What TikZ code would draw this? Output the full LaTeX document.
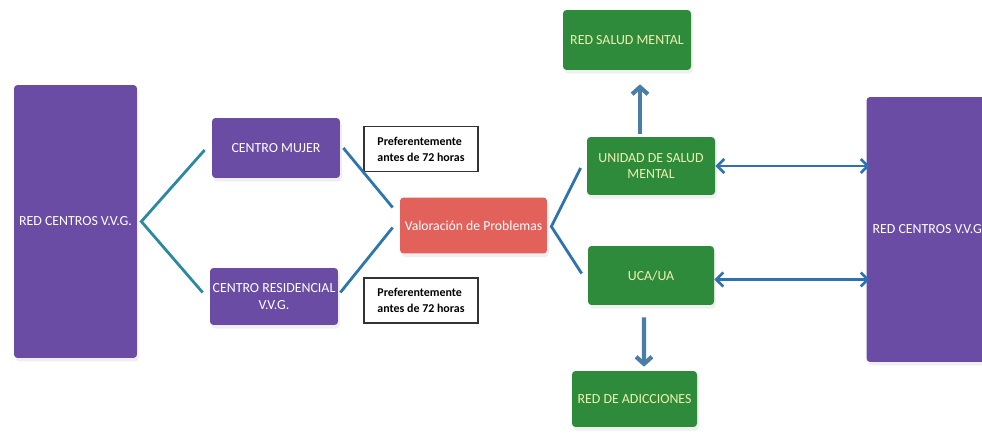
\documentclass[tikz,border=0pt]{standalone}
\usepackage{fontspec}
\setmainfont{Carlito}
\usetikzlibrary{arrows.meta,shadows}
\definecolor{morado}{HTML}{6B4CA5}
\definecolor{verde}{HTML}{2F8B3C}
\definecolor{rojo}{HTML}{E2625B}
\definecolor{turquesa}{HTML}{2A8AA0}
\definecolor{azul}{HTML}{2F72B0}
\definecolor{acero}{HTML}{4A7EA6}
\definecolor{amarillo}{HTML}{EEF2B0}
\tikzset{
    caja/.style={draw=none, rounded corners=2pt, align=center, inner sep=1pt,
        font=\fontsize{7.9}{9.5}\selectfont,
        drop shadow={shadow xshift=1pt, shadow yshift=-2pt, fill=gray!25}},
    cajamorada/.style={caja, fill=morado, text=white},
    cajaverde/.style={caja, fill=verde, text=amarillo},
    cajaroja/.style={caja, fill=rojo, text=white, font=\fontsize{7.8}{9.5}\selectfont},
    nota/.style={draw=black!80, line width=0.8pt, fill=white, align=left,
        font=\fontsize{6.8}{9}\selectfont\bfseries, minimum width=2.28cm, minimum height=0.9cm},
    enlace/.style={line width=1.6pt},
    flecha/.style={acero, line width=2.4pt, -{Straight Barb[length=4pt,width=9pt]}},
    doble/.style={azul, line width=1.5pt, {Straight Barb[length=4pt,width=8pt]}-{Straight Barb[length=4pt,width=8pt]}}
}
\begin{document}
\begin{tikzpicture}[x=0.02cm, y=-0.02cm]
    \useasboundingbox (0, 0) rectangle (982, 435);
    % columna izquierda
    \node[cajamorada, minimum width=2.46cm, minimum height=5.46cm] (redizq) at (75.5, 221.5) {RED CENTROS V.V.G.};
    \node[cajamorada, minimum width=2.56cm, minimum height=1.2cm] (mujer) at (276, 148) {CENTRO MUJER};
    \node[cajamorada, minimum width=2.56cm, minimum height=1.14cm] (residencial) at (274, 296.5) {CENTRO RESIDENCIAL\\V.V.G.};
    % notas
    \node[nota] (nota1) at (421, 149) {Preferentemente\\antes de 72 horas};
    \node[nota] (nota2) at (421, 300.5) {Preferentemente\\antes de 72 horas};
    % centro
    \node[cajaroja, minimum width=2.94cm, minimum height=1.12cm] (valoracion) at (473.5, 225.5) {Valoración de Problemas};
    % columna verde
    \node[cajaverde, minimum width=2.56cm, minimum height=1.2cm] (rsm) at (627, 40) {RED SALUD MENTAL};
    \node[cajaverde, minimum width=2.56cm, minimum height=1.16cm] (unidad) at (651, 166) {UNIDAD DE SALUD\\MENTAL};
    \node[cajaverde, minimum width=2.52cm, minimum height=1.18cm] (uca) at (651, 275.5) {UCA/UA};
    \node[cajaverde, minimum width=2.5cm, minimum height=1.12cm] (adicciones) at (634.5, 399) {RED DE ADICCIONES};
    % columna derecha
    \node[cajamorada, minimum width=2.5cm, minimum height=5.3cm] (redder) at (929, 229.5) {RED CENTROS V.V.G.};
    % conexiones
    \coordinate (bifizq) at ([shift={(4, 0)}]redizq.east);
    \coordinate (bifder) at ([shift={(4, 1)}]valoracion.east);
    \coordinate (ucader) at ([shift={(0, 4)}]uca.east);
    \draw[enlace, turquesa] ([shift={(-7, 2)}]mujer.west) -- (bifizq) -- ([shift={(-7, -4)}]residencial.west);
    \draw[enlace, azul!80!turquesa] ([shift={(3, 0)}]mujer.east) -- ([shift={(-7, -18)}]valoracion.west)
          ([shift={(2, -4)}]residencial.east) -- ([shift={(-7, 2)}]valoracion.west);
    \draw[enlace, azul] ([shift={(-6, 2)}]unidad.west) -- (bifder) -- ([shift={(-6, -2)}]uca.west);
    \draw[flecha] ([shift={(-11, -3)}]unidad.north) -- ([shift={(13, 14)}]rsm.south);
    \draw[flecha] ([shift={(-7, 12)}]uca.south) -- ([shift={(9.5, -4)}]adicciones.north);
    \draw[doble] (unidad.east) -- ([xshift=2]redder.west |- unidad.east);
    \draw[doble] (ucader) -- ([xshift=2]redder.west |- ucader);
\end{tikzpicture}
\end{document}
